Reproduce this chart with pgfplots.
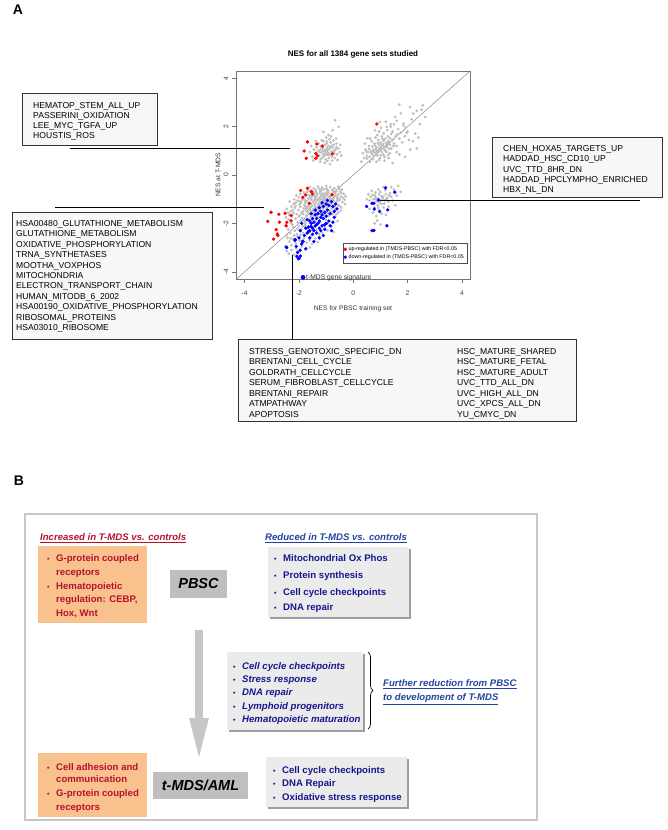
\documentclass[border=0pt]{standalone}
\usepackage{fontspec}
\setmainfont{Liberation Sans}
\usepackage{pgfplots}
\pgfplotsset{compat=1.18}
\usetikzlibrary{decorations.pathreplacing}
\definecolor{ptgray}{HTML}{BEBEBE}
\definecolor{orangebox}{HTML}{F9C18D}
\definecolor{darkred}{HTML}{B5122E}
\definecolor{navy}{HTML}{16168C}
\definecolor{linkblue}{HTML}{2244A0}
\definecolor{lightbox}{HTML}{EBEBEB}
\definecolor{midbox}{HTML}{BFBFBF}
\newcommand\fs[1]{\fontsize{#1}{#1}\selectfont}
\newcommand\tl[3]{\node[anchor=base west,inner sep=0pt] at (#1pt,-#2pt) {#3};}
\begin{document}
\begin{tikzpicture}
\useasboundingbox (0pt,0pt) rectangle (667pt,-830pt);
% ---------------- Panel A ----------------
\node[font=\bfseries\fs{14}] at (18pt,-10pt) {A};
\node[font=\bfseries\fs{8}] at (353pt,-54pt) {NES for all 1384 gene sets studied};
\node[font=\fs{6.7},text=black!80] at (353pt,-309pt) {NES for PBSC training set};
\node[font=\fs{6.7},text=black!80,rotate=90] at (218pt,-175pt) {NES at T-MDS};

\begin{axis}[at={(236pt,-279pt)}, anchor=south west, width=234pt, height=208pt, scale only axis,
  xmin=-4.32, xmax=4.3, ymin=-4.3, ymax=4.3, clip=false,
  xtick={-4,-2,0,2,4}, ytick={-4,-2,0,2,4},
  tick align=outside, tick pos=left, major tick length=4pt,
  axis line style={black!55}, every tick/.style={black!55},
  /pgf/number format/assume math mode=true,
  tick label style={font=\fs{6.7}, text=black!75},
  xticklabel style={yshift=-4pt},
  yticklabel style={rotate=90, anchor=south},
  legend style={at={(0.987,0.077)}, anchor=south east, font=\fs{5.3}, draw=black!70, inner sep=1pt, row sep=-1.5pt},
  legend cell align=left]
\addplot[black!55, line width=0.4pt, forget plot] coordinates {(-4.3,-4.3) (4.3,4.3)};
% gray points: all gene sets
\addplot[only marks, mark=*, mark size=1.2pt, color=ptgray, forget plot] coordinates {
(-1.05,1.02)(-0.95,0.95)(-1.12,1.10)(-0.88,1.08)(-1.00,0.85)(-0.92,1.20)(-1.18,0.92)(-0.80,0.98)(-1.08,0.78)(-0.85,0.82)
(-1.22,1.05)(-0.75,1.12)(-0.98,1.30)(-1.15,1.22)(-0.70,0.90)(-1.25,0.80)(-0.90,0.70)(-1.02,0.65)(-0.78,0.75)(-1.30,1.00)
(-0.65,1.05)(-0.83,1.35)(-1.10,1.40)(-0.60,0.85)(-1.20,0.65)(-0.95,0.58)(-0.72,1.25)(-1.35,1.15)(-0.88,1.48)(-1.00,1.55)
(-0.62,1.30)(-1.40,0.90)(-0.55,1.10)(-1.28,1.30)(-0.78,0.60)(-1.05,0.50)(-0.68,0.70)(-1.45,1.05)(-0.50,0.95)(-0.82,1.60)
(-1.16,1.44)(-0.91,1.65)(-0.76,1.85)(-1.10,1.78)(-0.54,1.99)(-0.67,2.26)(-1.55,1.20)(-1.50,0.75)(-0.58,0.62)(-0.48,1.25)
(-1.22,0.55)(-0.86,0.45)(-1.60,0.95)(-0.73,1.42)(-0.98,1.12)(-1.04,0.90)(-0.93,0.82)(-1.13,0.98)(-0.84,1.15)(-0.97,1.38)
(-1.32,0.72)(-0.63,1.50)(-1.38,1.40)(-0.44,0.80)(-1.48,0.60)
(-1.00,1.00)(-0.90,0.90)(-1.10,0.85)(-0.80,1.20)(-1.20,1.18)(-0.70,1.00)(-1.05,1.25)(-0.94,1.05)(-0.76,0.85)(-1.26,0.95)
(-0.62,1.15)(-1.14,0.72)
(1.00,1.10)(1.10,1.20)(0.90,1.00)(1.20,1.30)(0.95,1.25)(1.15,1.05)(0.85,1.15)(1.05,0.95)(1.25,1.15)(0.80,0.90)
(1.30,1.40)(0.75,1.05)(1.00,1.35)(1.10,0.85)(0.88,0.80)(1.35,1.25)(0.70,0.85)(1.18,1.50)(0.92,1.45)(1.40,1.10)
(0.65,1.00)(1.05,1.60)(1.22,0.95)(0.78,1.30)(1.45,1.45)(0.60,0.75)(0.98,0.70)(1.28,1.60)(0.82,1.55)(1.50,1.30)
(0.55,0.95)(1.12,1.72)(0.72,0.65)(1.35,0.90)(0.95,1.80)(1.55,1.60)(0.50,0.80)(1.60,1.20)(1.25,1.85)(0.68,1.40)
(1.45,1.80)(0.58,1.20)(1.02,1.95)(1.70,1.50)(1.38,2.00)(0.85,0.55)(1.15,0.60)(1.65,1.90)(1.80,1.35)(0.45,1.05)
(1.50,2.10)(1.75,1.75)(1.90,1.60)(0.62,0.55)(1.30,0.70)(2.00,1.80)(0.40,0.70)(1.85,2.05)(1.20,2.20)(1.60,0.95)
(2.05,1.45)(0.35,0.90)(0.52,1.52)(1.08,1.28)(0.96,1.12)(1.18,1.00)(0.86,0.95)(1.04,1.18)(1.26,1.36)(0.74,0.98)
(1.12,1.42)(0.90,1.32)(1.32,1.08)(0.80,1.22)(1.00,0.82)
(0.95,1.05)(1.06,1.24)(0.84,1.06)(1.14,1.14)(0.76,0.78)(1.22,1.22)(0.66,0.92)(1.36,1.52)(0.88,1.65)(1.08,1.50)
(1.48,1.20)(0.58,1.08)(1.28,0.82)(0.70,1.18)(1.62,1.68)(1.92,1.95)(1.15,0.75)(0.95,0.62)(1.40,1.70)(0.50,0.68)
(1.69,2.91)(2.09,2.81)(2.56,2.88)(2.34,2.65)(2.52,2.70)(2.21,2.54)(1.54,2.40)(1.60,2.24)(1.85,2.13)(1.38,2.10)
(0.98,2.19)(1.23,1.99)(1.97,1.74)(2.28,1.71)(2.34,1.10)(1.91,0.75)(0.49,0.96)(0.43,1.30)(0.62,1.51)(2.15,2.30)
(2.45,2.10)(1.75,2.55)(0.80,1.85)(2.20,1.40)(1.70,0.85)(2.65,2.40)(2.40,1.55)(0.30,0.55)(1.45,0.50)(2.10,1.05)
(0.90,-0.95)(1.00,-1.05)(0.85,-1.10)(1.10,-0.90)(0.95,-0.80)(1.05,-1.20)(0.80,-0.85)(1.15,-1.05)(0.75,-1.00)(1.20,-0.80)
(0.90,-1.25)(1.00,-0.70)(0.70,-1.15)(1.25,-0.95)(0.82,-0.72)(1.30,-1.10)(0.65,-0.90)(1.12,-1.35)(0.78,-1.35)(1.35,-0.75)
(0.60,-1.05)(1.40,-0.90)(0.95,-1.45)(1.45,-1.05)(0.55,-0.80)(1.18,-0.62)(0.72,-1.55)(1.50,-0.60)(1.60,-0.85)(0.68,-0.65)
(1.05,-1.60)(0.85,-1.70)(1.30,-1.30)(1.65,-0.45)(1.40,-0.50)(0.60,-1.40)(1.75,-0.70)(0.50,-1.00)(1.10,-0.50)(0.88,-1.88)
(1.00,-2.05)(0.78,-2.00)(1.20,-1.65)(1.55,-1.25)(0.92,-0.60)(0.98,-1.15)(1.08,-0.98)(0.86,-1.02)
(0.94,-1.00)(1.04,-0.88)(0.82,-0.95)(1.14,-1.18)(0.72,-0.82)(1.22,-1.00)(0.92,-1.35)(1.32,-0.85)
(-1.60,-0.50)(-1.45,-0.55)(-1.30,-0.48)(-1.15,-0.52)(-1.00,-0.45)(-0.85,-0.50)(-0.70,-0.55)(-0.55,-0.48)(-0.42,-0.60)(-1.52,-0.65)
(-1.38,-0.62)(-1.22,-0.68)(-1.08,-0.60)(-0.92,-0.66)(-0.78,-0.62)(-0.62,-0.68)(-0.48,-0.70)(-1.70,-0.70)(-1.25,-0.58)(-0.98,-0.56)
(-2.10,-0.85)(-1.95,-0.78)(-1.85,-0.95)(-1.62,-0.85)(-1.48,-0.75)(-1.40,-0.92)(-1.32,-0.80)(-1.20,-0.88)(-1.12,-0.76)(-1.05,-0.95)
(-0.96,-0.82)(-0.88,-0.90)(-0.80,-0.78)(-0.72,-0.95)(-0.64,-0.85)(-0.55,-0.80)(-0.45,-0.90)(-0.35,-0.78)(-1.55,-0.98)(-1.28,-0.98)
(-1.16,-0.84)(-1.00,-0.72)(-0.84,-0.98)(-0.68,-0.74)(-1.72,-0.82)(-1.44,-0.86)(-1.36,-0.72)(-1.08,-0.88)(-0.92,-0.74)(-0.60,-0.96)
(-2.35,-1.10)(-2.20,-1.20)(-2.05,-1.05)(-1.92,-1.15)(-1.80,-1.25)(-1.70,-1.08)(-1.60,-1.18)(-1.52,-1.28)(-1.45,-1.05)(-1.38,-1.15)
(-1.30,-1.25)(-1.24,-1.08)(-1.18,-1.20)(-1.10,-1.02)(-1.02,-1.12)(-0.95,-1.22)(-0.88,-1.05)(-0.80,-1.18)(-0.72,-1.08)(-0.62,-1.15)
(-0.52,-1.05)(-0.40,-1.12)(-0.30,-1.20)(-1.88,-1.02)(-1.76,-1.15)(-1.65,-1.28)(-1.56,-1.02)(-1.42,-1.22)(-1.34,-1.05)(-1.26,-1.18)
(-1.14,-1.10)(-1.06,-1.28)(-0.98,-1.04)(-0.84,-1.28)(-0.68,-1.25)(-0.56,-1.25)(-2.12,-1.28)(-1.98,-1.22)
(-2.45,-1.40)(-2.30,-1.50)(-2.15,-1.35)(-2.02,-1.45)(-1.90,-1.55)(-1.82,-1.38)(-1.74,-1.48)(-1.66,-1.58)(-1.58,-1.35)(-1.50,-1.45)
(-1.44,-1.55)(-1.36,-1.38)(-1.28,-1.48)(-1.20,-1.58)(-1.12,-1.40)(-1.04,-1.50)(-0.96,-1.35)(-0.88,-1.45)(-0.78,-1.38)(-0.66,-1.45)
(-0.55,-1.55)(-0.45,-1.35)(-2.20,-1.58)(-1.95,-1.32)(-1.70,-1.35)(-1.55,-1.58)(-1.40,-1.32)(-1.16,-1.55)(-0.92,-1.58)
(-2.48,-1.75)(-2.38,-1.85)(-2.25,-1.70)(-2.12,-1.80)(-2.05,-1.95)(-1.96,-1.65)(-1.88,-1.78)(-1.80,-1.90)(-1.72,-1.68)(-1.64,-1.82)
(-1.56,-1.72)(-1.48,-1.62)(-1.40,-1.92)(-1.32,-1.72)(-1.22,-1.95)(-1.12,-1.62)(-1.02,-1.85)(-0.90,-1.70)(-0.78,-1.62)(-0.66,-1.72)
(-0.58,-1.90)(-2.30,-1.98)(-2.00,-1.72)(-1.84,-1.62)(-1.60,-1.98)(-1.50,-1.85)(-0.95,-2.00)
(-2.50,-2.10)(-2.40,-2.25)(-2.32,-2.40)(-2.22,-2.15)(-2.15,-2.30)(-2.08,-2.45)(-2.00,-2.12)(-1.92,-2.25)(-1.85,-2.40)(-1.78,-2.08)
(-1.70,-2.20)(-1.62,-2.38)(-1.55,-2.50)(-1.45,-2.15)(-1.35,-2.28)(-1.25,-2.45)(-1.15,-2.38)(-1.05,-2.15)(-0.95,-2.30)(-0.80,-2.12)
(-0.72,-2.35)(-2.45,-2.48)(-2.25,-2.05)(-1.95,-2.48)
(-2.42,-2.60)(-2.35,-2.75)(-2.28,-2.90)(-2.20,-2.65)(-2.12,-2.82)(-2.05,-2.55)(-1.98,-2.70)(-1.90,-2.95)(-1.82,-2.62)(-1.72,-2.80)
(-1.62,-2.70)(-1.52,-2.85)(-1.40,-2.62)(-1.30,-2.78)(-2.45,-3.15)(-2.38,-3.25)(-2.28,-3.10)(-2.18,-3.30)(-2.10,-3.05)(-1.60,-3.00)
(-1.25,-2.55)(-2.50,-2.95)
(-1.25,-0.95)(-1.18,-1.00)(-1.10,-0.92)(-1.32,-1.02)(-1.02,-0.98)(-0.95,-1.08)(-1.40,-1.00)(-1.48,-1.12)(-1.22,-1.32)(-1.30,-1.38)
(-1.08,-1.18)(-0.90,-1.12)(-0.75,-1.00)(-1.55,-1.20)(-1.62,-1.42)(-1.75,-1.30)(-1.85,-1.50)(-1.35,-0.85)(-1.00,-0.85)(-0.82,-0.85)
(-1.45,-0.80)(-1.58,-0.90)(-0.70,-0.88)(-0.58,-0.92)(-0.50,-1.00)
(-1.42,-0.70)(-1.18,-0.64)(-0.95,-0.62)(-0.74,-0.66)(-0.52,-0.58)(-1.66,-0.62)(-1.82,-0.72)(-2.00,-0.92)(-2.18,-1.00)(-2.28,-1.30)
(-2.40,-1.55)(-2.35,-1.65)(-2.22,-1.45)(-2.08,-1.62)(-1.94,-1.88)(-1.76,-1.98)(-1.86,-2.12)(-2.05,-2.22)(-2.18,-2.50)(-2.30,-2.62)
(-1.68,-1.52)(-1.58,-1.48)(-1.46,-1.68)(-1.34,-1.55)(-1.26,-1.62)(-1.10,-1.48)(-1.00,-1.38)(-0.84,-1.52)(-0.72,-1.55)(-0.62,-1.62)
(-0.50,-1.28)(-0.38,-0.95)(-0.32,-1.02)(-0.46,-1.48)(-0.70,-1.32)(-0.82,-1.08)(-1.06,-0.80)(-1.22,-0.76)(-1.52,-0.88)(-1.66,-0.98)
(-1.78,-1.05)(-1.96,-1.10)(-2.12,-1.14)(-1.72,-1.40)(-1.46,-1.40)(-1.18,-1.30)(-0.90,-1.30)(-0.60,-1.05)(-0.44,-0.75)(-0.28,-0.88)
};
% red: up-regulated
\addplot[only marks, mark=*, mark size=1.5pt, color=red] coordinates {
(-1.69,1.37)(-1.81,0.99)(-1.73,0.69)(-1.34,1.28)(-1.14,1.19)(-1.38,0.89)(-1.32,0.80)(-1.38,0.69)(-0.77,0.88)(0.87,2.11)
(-1.94,-0.64)(-1.76,-0.82)(-1.51,-0.78)(-1.86,-0.92)(-1.62,-1.17)(-0.78,-0.82)(-1.69,-0.55)(-1.55,-0.68)
(-3.03,-1.54)(-2.74,-1.62)(-2.51,-1.58)(-3.15,-1.92)(-2.72,-1.95)(-2.45,-1.96)(-2.29,-1.89)(-2.84,-2.26)(-2.80,-2.44)
(-2.78,-2.50)(-2.94,-2.65)(-2.47,-2.10)(-2.29,-1.67)
};
\addlegendentry{up-regulated in (TMDS-PBSC) with FDR<0.05}
% blue: down-regulated
\addplot[only marks, mark=*, mark size=1.5pt, color=blue] coordinates {
(-0.75,-1.30)(-0.70,-1.50)(-0.65,-1.20)(-0.80,-1.10)(-0.90,-1.25)(-0.85,-1.60)(-0.95,-1.45)(-1.00,-1.70)(-1.05,-1.55)(-1.10,-1.30)
(-1.10,-1.80)(-1.15,-1.65)(-1.20,-1.50)(-1.20,-1.75)(-1.25,-1.90)(-1.30,-1.60)(-1.30,-2.00)(-1.35,-1.80)(-1.40,-1.65)(-1.40,-2.10)
(-1.45,-1.95)(-1.50,-1.80)(-1.50,-2.20)(-1.55,-2.00)(-1.60,-2.30)(-1.60,-1.90)(-1.65,-2.15)(-1.70,-2.40)(-1.75,-2.20)(-1.80,-2.50)
(-1.00,-2.00)(-0.90,-1.90)(-0.85,-2.10)(-1.05,-2.25)(-1.20,-2.30)(-1.35,-2.40)(-1.50,-2.45)(-0.70,-1.75)(-0.60,-1.40)(-0.95,-1.05)
(-1.15,-1.15)(-1.25,-1.35)(-1.40,-1.45)(-1.55,-1.60)(-1.70,-1.85)(-1.90,-2.00)(-1.95,-2.30)(-2.00,-2.60)(-1.85,-2.75)(-2.10,-2.95)
(-2.05,-3.20)(-1.95,-3.35)(-2.00,-3.45)(-1.75,-3.05)(-2.45,-3.00)(-1.90,-2.85)(-1.25,-2.60)(-1.10,-2.50)(-0.80,-2.30)(-1.00,-1.20)
(-0.75,-1.95)(-1.60,-2.60)(-1.45,-2.75)(-2.15,-2.70)(-1.05,-2.05)(-1.15,-2.10)(-1.25,-2.20)(-1.35,-2.05)(-1.45,-2.30)
(-2.47,-2.98)(-2.08,-3.36)(-2.02,-3.46)(-1.96,-3.11)(-1.87,-2.74)(-2.14,-2.67)(-1.65,-2.33)(-1.55,-2.13)
(0.49,-1.30)(0.76,-1.17)(0.77,-1.41)(0.93,-1.04)(0.97,-1.51)(1.19,-0.53)(1.53,-0.71)(1.27,-1.44)(1.24,-2.10)(0.76,-2.29)
(0.69,-2.30)(0.69,-1.17)
};
\addlegendentry{down-regulated in (TMDS-PBSC) with FDR<0.05}
\addplot[only marks, mark=*, mark size=2.1pt, color=blue, forget plot] coordinates {(-1.85,-4.23)};
\node[anchor=west, font=\fs{6.7}, text=black!80, inner sep=0pt] at (axis cs:-1.74,-4.23) {t-MDS gene signature};
\end{axis}

% annotation lines
\draw[black, line width=0.6pt] (70pt,-148pt) -- (290pt,-148pt);
\draw[black, line width=0.6pt] (55pt,-207pt) -- (264pt,-207pt);
\draw[black, line width=0.6pt] (380pt,-200pt) -- (640pt,-200pt);
\draw[black, line width=0.6pt] (292pt,-255pt) -- (292pt,-339pt);

% text boxes
\begin{scope}[font=\fs{8.6}]
\filldraw[fill=black!3, draw=black!80, line width=0.7pt] (22pt,-93pt) rectangle (157pt,-145pt);
\tl{33}{108}{HEMATOP\_STEM\_ALL\_UP}
\tl{33}{118.3}{PASSERINI\_OXIDATION}
\tl{33}{128.6}{LEE\_MYC\_TGFA\_UP}
\tl{33}{138.9}{HOUSTIS\_ROS}

\filldraw[fill=black!3, draw=black!80, line width=0.7pt] (12pt,-212pt) rectangle (212pt,-339pt);
\tl{16}{226.4}{HSA00480\_GLUTATHIONE\_METABOLISM}
\tl{16}{236.8}{GLUTATHIONE\_METABOLISM}
\tl{16}{247.2}{OXIDATIVE\_PHOSPHORYLATION}
\tl{16}{257.6}{TRNA\_SYNTHETASES}
\tl{16}{268.0}{MOOTHA\_VOXPHOS}
\tl{16}{278.4}{MITOCHONDRIA}
\tl{16}{288.8}{ELECTRON\_TRANSPORT\_CHAIN}
\tl{16}{299.2}{HUMAN\_MITODB\_6\_2002}
\tl{16}{309.6}{HSA00190\_OXIDATIVE\_PHOSPHORYLATION}
\tl{16}{320.0}{RIBOSOMAL\_PROTEINS}
\tl{16}{330.4}{HSA03010\_RIBOSOME}

\filldraw[fill=black!3, draw=black!80, line width=0.7pt] (492pt,-137pt) rectangle (662pt,-197pt);
\tl{503}{151.2}{CHEN\_HOXA5\_TARGETS\_UP}
\tl{503}{161.6}{HADDAD\_HSC\_CD10\_UP}
\tl{503}{172.0}{UVC\_TTD\_8HR\_DN}
\tl{503}{182.4}{HADDAD\_HPCLYMPHO\_ENRICHED}
\tl{503}{192.8}{HBX\_NL\_DN}

\filldraw[fill=black!3, draw=black!80, line width=0.7pt] (238pt,-339pt) rectangle (576pt,-421pt);
\tl{249}{354.2}{STRESS\_GENOTOXIC\_SPECIFIC\_DN}
\tl{249}{364.7}{BRENTANI\_CELL\_CYCLE}
\tl{249}{375.2}{GOLDRATH\_CELLCYCLE}
\tl{249}{385.7}{SERUM\_FIBROBLAST\_CELLCYCLE}
\tl{249}{396.2}{BRENTANI\_REPAIR}
\tl{249}{406.7}{ATMPATHWAY}
\tl{249}{417.2}{APOPTOSIS}
\tl{457}{354.2}{HSC\_MATURE\_SHARED}
\tl{457}{364.7}{HSC\_MATURE\_FETAL}
\tl{457}{375.2}{HSC\_MATURE\_ADULT}
\tl{457}{385.7}{UVC\_TTD\_ALL\_DN}
\tl{457}{396.2}{UVC\_HIGH\_ALL\_DN}
\tl{457}{406.7}{UVC\_XPCS\_ALL\_DN}
\tl{457}{417.2}{YU\_CMYC\_DN}
\end{scope}

% ---------------- Panel B ----------------
\node[font=\bfseries\fs{14}] at (19pt,-481pt) {B};
\draw[black!22, line width=1.2pt] (25pt,-514pt) rectangle (537pt,-820pt);

\begin{scope}[font=\bfseries\itshape\fs{9.6}]
\node[anchor=base west, inner sep=0pt, text=darkred] at (40pt,-540.5pt) {\underline{Increased in T-MDS vs. controls}};
\node[anchor=base west, inner sep=0pt, text=linkblue] at (265pt,-540.5pt) {\underline{Reduced in T-MDS vs. controls}};
\end{scope}

% orange box 1
\fill[orangebox] (38pt,-546pt) rectangle (147pt,-623pt);
\begin{scope}[font=\bfseries\fs{9.6}, text=darkred]
\tl{47}{561.8}{\fs{7}•}
\tl{56}{561.8}{G-protein coupled}
\tl{56}{575.2}{receptors}
\tl{47}{589.5}{\fs{7}•}
\tl{56}{589.5}{Hematopoietic}
\tl{56}{602.8}{regulation: CEBP,}
\tl{56}{616.2}{Hox, Wnt}
\end{scope}

% PBSC
\fill[midbox] (170pt,-570pt) rectangle (227pt,-598pt);
\node[font=\bfseries\itshape\fs{14.5}] at (198.5pt,-584pt) {PBSC};

% right box 1
\fill[black!38] (269.5pt,-548.5pt) rectangle (410.5pt,-618.5pt);
\fill[lightbox] (268pt,-547pt) rectangle (409pt,-617pt);
\begin{scope}[font=\bfseries\fs{9.6}, text=navy]
\tl{274}{561.8}{\fs{7}•}
\tl{283}{561.8}{Mitochondrial Ox Phos}
\tl{274}{578.5}{\fs{7}•}
\tl{283}{578.5}{Protein synthesis}
\tl{274}{595.8}{\fs{7}•}
\tl{283}{595.8}{Cell cycle checkpoints}
\tl{274}{610.2}{\fs{7}•}
\tl{283}{610.2}{DNA repair}
\end{scope}

% arrow
\fill[black!22] (195pt,-630pt) rectangle (203pt,-718.5pt);
\fill[black!22] (189pt,-718pt) -- (209pt,-718pt) -- (199pt,-757pt) -- cycle;

% middle box
\fill[black!38] (228.5pt,-653.5pt) rectangle (364.5pt,-731.5pt);
\fill[lightbox] (227pt,-652pt) rectangle (363pt,-730pt);
\begin{scope}[font=\bfseries\itshape\fs{9.6}, text=navy]
\tl{233}{669.2}{\upshape\fs{7}•}
\tl{242}{669.2}{Cell cycle checkpoints}
\tl{233}{682.5}{\upshape\fs{7}•}
\tl{242}{682.5}{Stress response}
\tl{233}{695.8}{\upshape\fs{7}•}
\tl{242}{695.8}{DNA repair}
\tl{233}{709.5}{\upshape\fs{7}•}
\tl{242}{709.5}{Lymphoid progenitors}
\tl{233}{722.5}{\upshape\fs{7}•}
\tl{242}{722.5}{Hematopoietic maturation}
\end{scope}
\draw[decorate, decoration={brace, amplitude=5pt}, line width=0.7pt] (368pt,-652pt) -- (368pt,-729pt);
\begin{scope}[font=\bfseries\itshape\fs{9.6}, text=linkblue]
\tl{383}{686.8}{\underline{Further reduction from PBSC}}
\tl{383}{700.8}{\underline{to development of T-MDS}}
\end{scope}

% bottom orange box
\fill[orangebox] (38pt,-753pt) rectangle (147pt,-817pt);
\begin{scope}[font=\bfseries\fs{9.6}, text=darkred]
\tl{47}{770.2}{\fs{7}•}
\tl{56}{770.2}{Cell adhesion and}
\tl{56}{782.8}{communication}
\tl{47}{796.8}{\fs{7}•}
\tl{56}{796.8}{G-protein coupled}
\tl{56}{810.2}{receptors}
\end{scope}

% t-MDS/AML
\fill[midbox] (153pt,-772pt) rectangle (248pt,-799pt);
\node[font=\bfseries\itshape\fs{14.5}] at (200.5pt,-785.5pt) {t-MDS/AML};

% bottom right box
\fill[black!38] (267.5pt,-758.5pt) rectangle (408.5pt,-808.5pt);
\fill[lightbox] (266pt,-757pt) rectangle (407pt,-807pt);
\begin{scope}[font=\bfseries\fs{9.6}, text=navy]
\tl{273}{773.5}{\fs{7}•}
\tl{282}{773.5}{Cell cycle checkpoints}
\tl{273}{786.8}{\fs{7}•}
\tl{282}{786.8}{DNA Repair}
\tl{273}{800.8}{\fs{7}•}
\tl{282}{800.8}{Oxidative stress response}
\end{scope}
\end{tikzpicture}
\end{document}
